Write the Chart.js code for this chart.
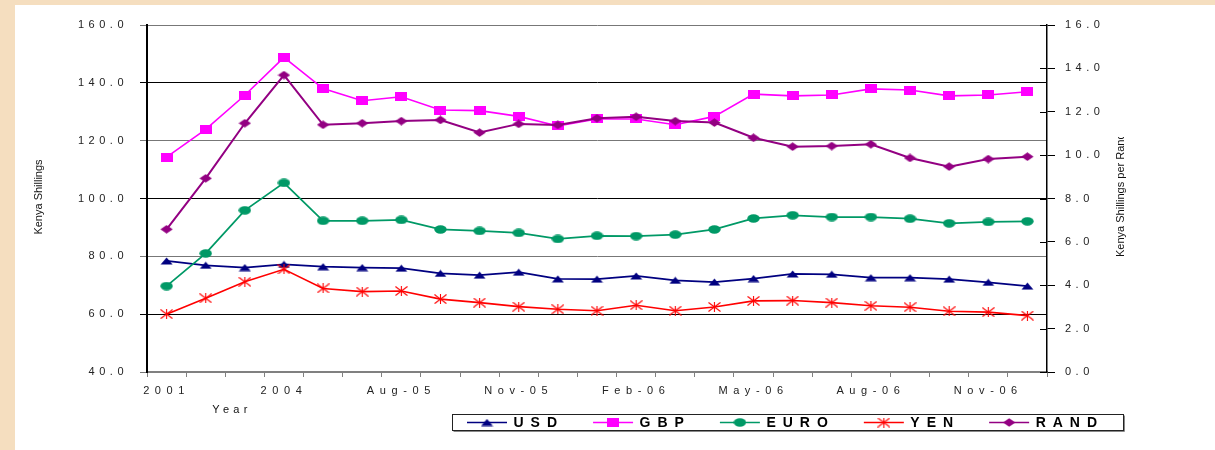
<!DOCTYPE html>
<html>
<head>
<meta charset="utf-8">
<title>Kenya Shilling exchange rates</title>
<script src="https://cdn.jsdelivr.net/npm/chart.js@4.4.1/dist/chart.umd.min.js"></script>
<style>
  html, body { margin: 0; padding: 0; width: 1215px; height: 450px; overflow: hidden; background: #F5DEBF; }
  #panel { position: absolute; left: 15px; top: 5px; width: 1200px; height: 445px; background: #ffffff; }
  canvas { display: block; }
</style>
</head>
<body>
<div id="panel"><canvas id="fx" width="1200" height="445"></canvas></div>
<script>
// Period labels along the x axis
const categories = ['2001', '2002', '2003', '2004', 'Jun-05', 'Jul-05', 'Aug-05', 'Sep-05', 'Oct-05',
  'Nov-05', 'Dec-05', 'Jan-06', 'Feb-06', 'Mar-06', 'Apr-06', 'May-06', 'Jun-06', 'Jul-06',
  'Aug-06', 'Sep-06', 'Oct-06', 'Nov-06', 'Dec-06'];
const xTickLabels = ['2001', '2004', 'Aug-05', 'Nov-05', 'Feb-06', 'May-06', 'Aug-06', 'Nov-06'];

// Kenya Shillings per unit (left axis)
const usd  = [78.4, 76.9, 76.1, 77.2, 76.4, 76.1, 75.9, 74.1, 73.5, 74.5, 72.2, 72.1, 73.2, 71.7, 71.1, 72.3, 73.9, 73.8, 72.6, 72.6, 72.1, 71.0, 69.7];
const gbp  = [114.3, 123.9, 135.7, 148.8, 138.0, 133.8, 135.2, 130.6, 130.4, 128.4, 125.1, 127.5, 127.5, 125.5, 128.4, 136.1, 135.5, 135.8, 137.9, 137.5, 135.5, 135.8, 136.9];
const euro = [69.7, 81.0, 95.9, 105.4, 92.3, 92.3, 92.6, 89.3, 88.8, 88.1, 86.0, 87.1, 87.0, 87.5, 89.3, 93.1, 94.2, 93.6, 93.6, 93.0, 91.4, 91.9, 92.1];
const yen  = [60.0, 65.5, 71.2, 75.5, 68.9, 67.8, 68.0, 65.2, 64.0, 62.6, 61.7, 61.2, 63.1, 61.2, 62.5, 64.6, 64.7, 64.0, 62.9, 62.4, 61.0, 60.7, 59.5];
// Kenya Shillings per Rand (right axis)
const rand = [6.58, 8.93, 11.47, 13.69, 11.40, 11.47, 11.57, 11.62, 11.04, 11.44, 11.39, 11.70, 11.77, 11.57, 11.50, 10.80, 10.39, 10.42, 10.50, 9.87, 9.47, 9.82, 9.93];

// Axis tick values
const leftTicks  = [40, 60, 80, 100, 120, 140, 160];
const rightTicks = [0, 2, 4, 6, 8, 10, 12, 14, 16];

const FONT = '"Liberation Sans", Arial, Helvetica, sans-serif';

// Small marker bitmaps (slightly wider than tall, like the spreadsheet markers)
function marker(kind, color, w, h) {
  const c = document.createElement('canvas');
  c.width = w; c.height = h;
  const g = c.getContext('2d');
  g.fillStyle = color; g.strokeStyle = color;
  g.beginPath();
  if (kind === 'triangle') {
    g.moveTo(0.5, h - 0.5); g.lineTo(w / 2, 0.5); g.lineTo(w - 0.5, h - 0.5); g.closePath(); g.fill();
  } else if (kind === 'square') {
    g.fillRect(0, 0, w, h);
  } else if (kind === 'ellipse') {
    g.ellipse(w / 2, h / 2, w / 2 - 0.3, h / 2 - 0.3, 0, 0, Math.PI * 2); g.fill();
  } else if (kind === 'diamond') {
    g.moveTo(w / 2, 0.3); g.lineTo(w - 0.3, h / 2); g.lineTo(w / 2, h - 0.3); g.lineTo(0.3, h / 2); g.closePath(); g.fill();
  } else if (kind === 'star') {
    g.lineWidth = 1.1;
    g.moveTo(0.5, 0.5); g.lineTo(w - 0.5, h - 0.5);
    g.moveTo(w - 0.5, 0.5); g.lineTo(0.5, h - 0.5);
    g.moveTo(w / 2, 0); g.lineTo(w / 2, h);
    g.stroke();
  }
  return c;
}

const COLORS = { usd: '#000080', gbp: '#FF00FF', euro: '#009966', yen: '#FF0000', rand: '#930082' };

function series(label, data, color, style, axis, width, order) {
  return {
    label, data, yAxisID: axis, order,
    borderColor: color, backgroundColor: color,
    borderWidth: width, tension: 0,
    pointStyle: style, pointRadius: 5, pointHoverRadius: 5
  };
}

// Texts, legend and right-axis tick details drawn on top of the chart
const decorations = {
  id: 'decorations',
  beforeDraw(chart) { chart.ctx.letterSpacing = '4.5px'; },
  afterDatasetsDraw(chart) { chart.ctx.letterSpacing = '5.6px'; },
  afterDraw(chart) {
    const ctx = chart.ctx;
    const area = chart.chartArea;
    ctx.save();

    // inner half of the right-axis tick marks
    const r = chart.scales.y1;
    ctx.strokeStyle = '#000'; ctx.lineWidth = 1;
    r.ticks.forEach(t => {
      const y = Math.round(r.getPixelForValue(t.value)) + 0.5;
      ctx.beginPath(); ctx.moveTo(area.right - 7, y); ctx.lineTo(area.right, y); ctx.stroke();
    });

    // axis titles
    ctx.fillStyle = '#111';
    ctx.font = '11px ' + FONT;
    ctx.letterSpacing = '0px';
    ctx.textBaseline = 'middle';

    ctx.save();
    ctx.translate(24, 192);
    ctx.rotate(-Math.PI / 2);
    ctx.textAlign = 'center';
    ctx.fillText('Kenya Shillings', 0, 0);
    ctx.restore();

    ctx.save();
    ctx.beginPath(); ctx.rect(1085, 132, 50, 200); ctx.clip();
    ctx.translate(1106, 252);
    ctx.rotate(-Math.PI / 2);
    ctx.textAlign = 'left';
    ctx.fillText('Kenya Shillings per Rand', 0, 0);
    ctx.restore();

    ctx.letterSpacing = '4.3px';
    ctx.textAlign = 'center';
    ctx.fillText('Year', 217, 405);

    // legend
    const sets = chart.data.datasets;
    const boxLeft = 437.5, boxTop = 409.5, boxBottom = 425.5;
    const midY = 417.5;
    ctx.font = 'bold 14px ' + FONT;
    ctx.letterSpacing = '7px';
    ctx.textAlign = 'left';
    let x = 452;
    sets.forEach(ds => {
      ctx.strokeStyle = ds.borderColor; ctx.lineWidth = 1.5;
      ctx.beginPath(); ctx.moveTo(x, midY); ctx.lineTo(x + 40, midY); ctx.stroke();
      Chart.helpers.drawPoint(ctx, { pointStyle: ds.pointStyle, radius: 5, rotation: 0, borderWidth: 0 }, x + 20, midY);
      ctx.fillStyle = '#000';
      const tx = x + 46.5;
      ctx.fillText(ds.label, tx, midY + 0.5);
      const visible = ctx.measureText(ds.label).width - 7;
      x = tx + visible + 36;
    });
    const boxRight = Math.round(x - 36 + 26) + 0.5;
    ctx.strokeStyle = '#222'; ctx.lineWidth = 1;
    ctx.strokeRect(boxLeft, boxTop, boxRight - boxLeft, boxBottom - boxTop);
    ctx.strokeStyle = '#888';
    ctx.beginPath();
    ctx.moveTo(boxLeft + 1, boxBottom + 1); ctx.lineTo(boxRight + 1, boxBottom + 1); ctx.lineTo(boxRight + 1, boxTop + 1);
    ctx.stroke();

    ctx.restore();
    ctx.letterSpacing = '0px';
  }
};

new Chart(document.getElementById('fx'), {
  type: 'line',
  data: {
    labels: categories,
    datasets: [
      series('USD',  usd,  COLORS.usd,  marker('triangle', COLORS.usd, 13, 8),  'y',  1.75, 5),
      series('GBP',  gbp,  COLORS.gbp,  marker('square',   COLORS.gbp, 12, 9),  'y',  1.6,  4),
      series('EURO', euro, COLORS.euro, marker('ellipse',  COLORS.euro, 13, 9), 'y',  1.75, 3),
      series('YEN',  yen,  COLORS.yen,  marker('star',     COLORS.yen, 13, 10), 'y',  1.6,  2),
      series('RAND', rand, COLORS.rand, marker('diamond',  COLORS.rand, 13, 9), 'y1', 2,    1)
    ]
  },
  options: {
    responsive: false,
    animation: false,
    events: [],
    layout: { padding: { top: 20, left: 0, right: 0, bottom: 0 } },
    plugins: { legend: { display: false }, tooltip: { enabled: false }, title: { display: false } },
    scales: {
      x: {
        type: 'category',
        offset: true,
        grid: { offset: true, drawOnChartArea: false, drawTicks: true, tickLength: 5, color: '#808080', lineWidth: 1 },
        border: { color: '#808080', width: 2 },
        ticks: {
          autoSkip: false, maxRotation: 0, minRotation: 0, padding: 7, z: 1,
          color: '#222', font: { size: 11, family: FONT },
          callback(v, i) { const c = categories[i]; return xTickLabels.includes(c) ? c : ''; }
        },
        afterFit(s) { s.height = 78; }
      },
      y: {
        position: 'left',
        min: leftTicks[0], max: leftTicks[leftTicks.length - 1],
        afterBuildTicks(s) { s.ticks = leftTicks.map(v => ({ value: v })); },
        grid: {
          drawTicks: true, tickLength: 7, lineWidth: 1,
          color: c => (c.tick && ((c.tick.value - leftTicks[0]) / 20) % 2 === 1) ? '#000' : '#777'
        },
        border: { color: '#000', width: 2 },
        ticks: { padding: 12, color: '#222', font: { size: 11, family: FONT }, callback: v => Number(v).toFixed(1) },
        afterFit(s) { s.width = 132; }
      },
      y1: {
        position: 'right',
        min: rightTicks[0], max: rightTicks[rightTicks.length - 1],
        afterBuildTicks(s) { s.ticks = rightTicks.map(v => ({ value: v })); },
        grid: { drawOnChartArea: false, drawTicks: true, tickLength: 8, color: '#000', lineWidth: 1 },
        border: { color: '#000', width: 1.5 },
        ticks: { padding: 10, color: '#222', font: { size: 11, family: FONT }, callback: v => Number(v).toFixed(1) },
        afterFit(s) { s.width = 168; }
      }
    }
  },
  plugins: [decorations]
});
</script>
</body>
</html>
